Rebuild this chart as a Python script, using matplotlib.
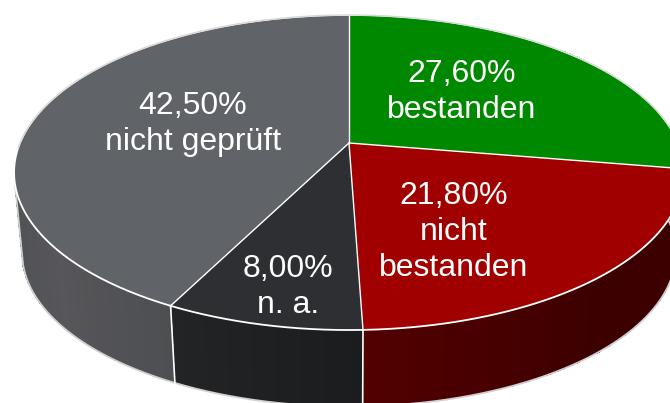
import numpy as np # numeric package for the pie geometry
import matplotlib.pyplot as plt # package for plotting
from matplotlib.colors import to_rgb

plt.rcParams['font.family'] = ['Liberation Sans', 'DejaVu Sans']

labels = ["27,60%\nbestanden", "21,80%\nnicht\nbestanden", "8,00%\nn. a.", "42,50%\nnicht geprüft"]
values = [27.6, 21.8, 8.0, 42.5]
top_colors = ["#008800", "#A00000", "#2D2F33", "#606367"]
wall_colors = [["#3C0000", "#3C0000"], ["#3C0000", "#3C0000", "#520000"],
               ["#1B1C1E", "#232426"], ["#4D4F52", "#57565A", "#4F5256"]]
label_x = [462, 454, 288, 193]
label_y = [92, 232, 287, 124]

K = 0.1873 # perspective of the pie plane
WALL_END = 4.45 # the wall is hidden behind the top face after this angle


def project(theta, cx, cy, scale): # clockwise angle from the top to picture coordinates
    x, y = np.sin(theta), np.cos(theta)
    w = 1 + K * y
    return cx + scale * 329 * x / w, cy - scale * 152 * y / w


def top(theta):
    return project(theta, 349, 143, 1.0)


def bottom(theta):
    return project(theta, 349, 224, 0.976)


fig = plt.figure(figsize=(6.7, 4.03), dpi=100)
ax = fig.add_axes([0, 0, 1, 1])
ax.set_xlim(0, 670)
ax.set_ylim(403, 0)
ax.axis('off')

edges = np.concatenate(([0], np.cumsum(values))) / np.sum(values) * 2 * np.pi

# side walls as a mesh, one cell per strip for the colour gradient
for i in range(len(values)):
    t = np.linspace(edges[i], min(edges[i + 1], WALL_END), 161)
    tx, ty = top(t)
    bx, by = bottom(t)
    rgb = np.array([to_rgb(c) for c in wall_colors[i]])
    pos = np.linspace(0, 1, len(rgb))
    f = np.linspace(0, 1, len(t) - 1)
    cells = np.stack([np.interp(f, pos, rgb[:, c]) for c in range(3)], axis=-1)[np.newaxis, :, :]
    ax.pcolormesh(np.vstack((tx, bx)), np.vstack((ty, by)), cells, zorder=1)

# thin rim under the pie, closed up to the top face on the left
t = np.linspace(edges[1] - 0.4, WALL_END, 481)
bx, by = bottom(t)
tx, ty = top(WALL_END)
ax.plot(np.r_[bx, tx], np.r_[by, ty], color="#D0D0D0", lw=1.3, zorder=2)

# white lines between the walls
for e in edges[2:4]:
    tx, ty = top(e)
    bx, by = bottom(e)
    ax.plot([tx, bx], [ty, by], color="white", lw=1.2, zorder=3)

# top faces
for i in range(len(values)):
    t = np.linspace(edges[i], edges[i + 1], 241)
    tx, ty = top(t)
    ax.fill(np.r_[349, tx], np.r_[143, ty], color=top_colors[i], lw=0, zorder=4)
    ax.plot(tx, ty, color="white", lw=1.3, zorder=5)
    ax.plot([349, tx[0]], [143, ty[0]], color="white", lw=1.0, zorder=5)

# back rim is softer
t = np.linspace(-1.6, 1.6, 241)
tx, ty = top(t)
ax.plot(tx, ty, color="#D8D8D8", lw=1.0, zorder=5)

for text, x, y in zip(labels, label_x, label_y):
    ax.text(x, y, text, color="white", fontsize=23, ha='center', va='center',
            linespacing=1.27, zorder=6)

plt.savefig("out.png", dpi=100)
